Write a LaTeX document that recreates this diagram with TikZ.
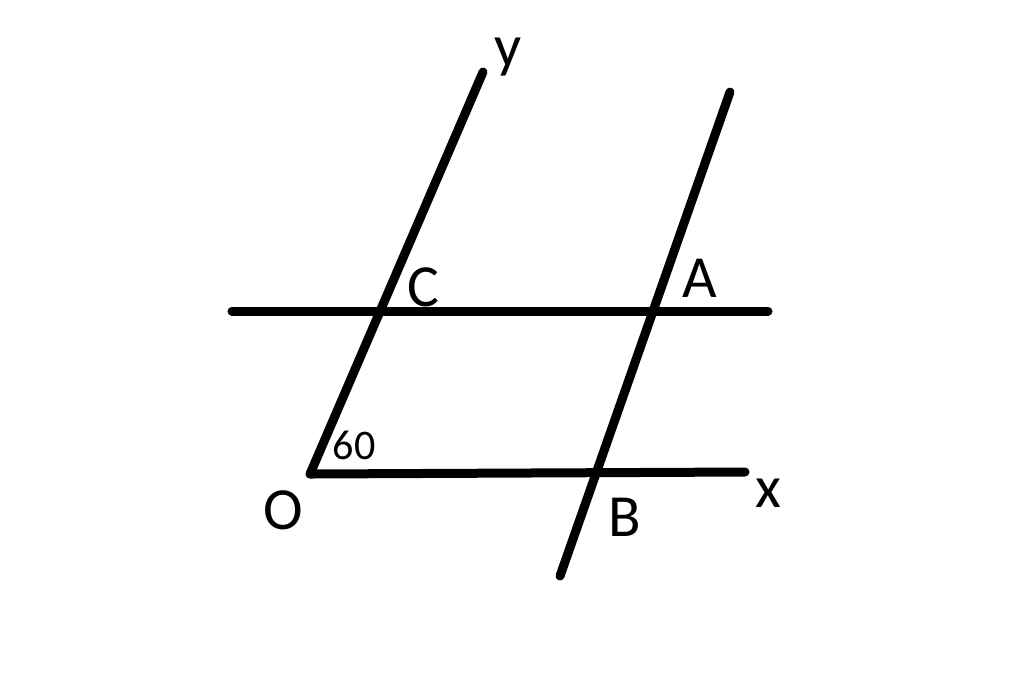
\documentclass[tikz,border=0pt]{standalone}
\usepackage{fontspec}
\setmainfont{Carlito}

\begin{document}
\begin{tikzpicture}[x=0.1mm, y=-0.1mm, line width=0.9mm, line cap=round,
		every node/.style = {inner sep=0pt, font=\fontsize{17}{20}\selectfont},
		small/.style = {font=\fontsize{12}{14}\selectfont}]
		\useasboundingbox (0,0) rectangle (1024,674);
		% points
		\coordinate (O) at (310,474);
		\coordinate (yend) at (483,72);
		\coordinate (xend) at (745,472);
		\coordinate (top) at (730,92);
		\coordinate (bot) at (560,576);
		\coordinate (left) at (232,311);
		\coordinate (right) at (768,311);
		% lines
		\draw (O) -- (yend);
		\draw (O) -- (xend);
		\draw (bot) -- (top);
		\draw (left) -- (right);
		% labels
		\node (ylab) at (508,57) {y};
		\node (xlab) at (768,493) {x};
		\node (Olab) at (283,510) {O};
		\node (Clab) at (423,287) {C};
		\node (Alab) at (700,278) {A};
		\node (Blab) at (625,517) {B};
		\node[small] (ang) at (354,445) {60};
\end{tikzpicture}
\end{document}
